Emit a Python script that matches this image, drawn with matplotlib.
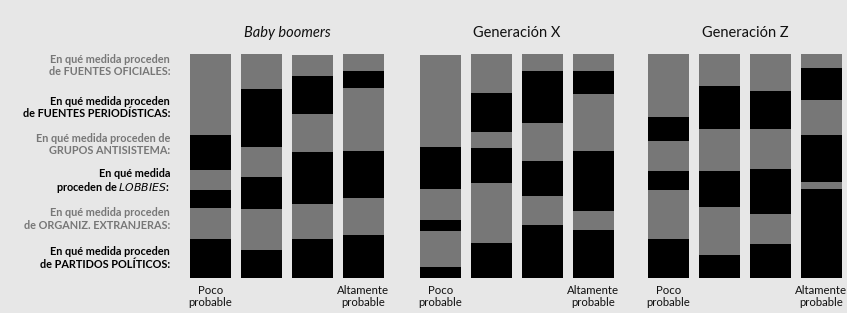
import matplotlib
matplotlib.use("Agg")
import matplotlib.pyplot as plt
import numpy as np

W, H = 847, 313
BG = "#e7e7e7"
GRAY = "#777777"
BLACK = "#000000"

panels = ["Baby boomers", "Generación X", "Generación Z"]
levels = ["Poco\nprobable", "", "", "Altamente\nprobable"]

# categories, bottom to top of each bar
categories = ["PARTIDOS POLÍTICOS", "ORGANIZ. EXTRANJERAS", "LOBBIES",
              "GRUPOS ANTISISTEMA", "FUENTES PERIODÍSTICAS", "FUENTES OFICIALES"]
cat_colors = [BLACK, GRAY, BLACK, GRAY, BLACK, GRAY]

# values (%), per panel: one list per category (bottom->top), 4 levels each
boomers = {
    "PARTIDOS POLÍTICOS":    [17.3, 12.4, 17.3, 19.1],
    "ORGANIZ. EXTRANJERAS":  [13.9, 18.3, 15.6, 16.5],
    "LOBBIES":               [8.0, 14.3, 23.2, 21.0],
    "GRUPOS ANTISISTEMA":    [8.9, 13.4, 17.0, 28.2],
    "FUENTES PERIODÍSTICAS": [15.6, 25.9, 17.0, 7.6],
    "FUENTES OFICIALES":     [36.3, 15.7, 9.4, 7.6],
}
gen_x = {
    "PARTIDOS POLÍTICOS":    [4.8, 15.5, 23.5, 21.3],
    "ORGANIZ. EXTRANJERAS":  [16.1, 26.8, 13.0, 8.5],
    "LOBBIES":               [4.9, 15.6, 15.6, 26.8],
    "GRUPOS ANTISISTEMA":    [13.9, 7.2, 17.0, 25.5],
    "FUENTES PERIODÍSTICAS": [18.8, 17.4, 23.2, 10.3],
    "FUENTES OFICIALES":     [41.2, 17.5, 7.7, 7.6],
}
gen_z = {
    "PARTIDOS POLÍTICOS":    [17.3, 10.1, 15.1, 39.6],
    "ORGANIZ. EXTRANJERAS":  [21.9, 21.5, 13.4, 3.1],
    "LOBBIES":               [8.5, 16.1, 20.1, 21.0],
    "GRUPOS ANTISISTEMA":    [13.4, 18.8, 17.9, 15.6],
    "FUENTES PERIODÍSTICAS": [10.7, 19.2, 17.0, 14.3],
    "FUENTES OFICIALES":     [28.2, 14.3, 16.5, 6.4],
}
panel_data = [boomers, gen_x, gen_z]

# left-side labels, top to bottom
row_labels = [
    ("En qué medida proceden\nde FUENTES OFICIALES:", GRAY),
    ("En qué medida proceden\nde FUENTES PERIODÍSTICAS:", BLACK),
    ("En qué medida proceden de\nGRUPOS ANTISISTEMA:", GRAY),
    ("En qué medida\nproceden de $\\mathit{LOBBIES}$:", BLACK),
    ("En qué medida proceden\nde ORGANIZ. EXTRANJERAS:", GRAY),
    ("En qué medida proceden\nde PARTIDOS POLÍTICOS:", BLACK),
]
label_y_px = [65.5, 107.5, 144.5, 181.5, 219, 258]

fig = plt.figure(figsize=(W / 100, H / 100), dpi=100, facecolor=BG)

panel_left_px = [185, 415, 643]
ax_w_px = 204
bar_top_px, bar_bot_px = 54, 278

for p, (title, data) in enumerate(zip(panels, panel_data)):
    ax = fig.add_axes([panel_left_px[p] / W, (H - bar_bot_px) / H,
                       ax_w_px / W, (bar_bot_px - bar_top_px) / H])
    ax.set_facecolor(BG)
    x = np.arange(len(levels))
    bottom = np.zeros(len(levels))
    for cat, col in zip(categories, cat_colors):
        vals = np.array(data[cat])
        ax.bar(x, vals, bottom=bottom, width=0.8, color=col, linewidth=0)
        bottom += vals
    ax.set_xlim(-0.5, 3.5)
    ax.set_ylim(0, 100)
    ax.set_yticks([])
    ax.set_xticks(x)
    ax.set_xticklabels(levels, family="Lato", fontsize=8.2, color="#111111",
                       linespacing=1.15)
    ax.tick_params(axis="x", length=0, pad=5)
    for s in ax.spines.values():
        s.set_visible(False)
    ax.text(1.5, 1.0 + 21 / (bar_bot_px - bar_top_px), title, transform=ax.get_xaxis_transform(),
            ha="center", va="center", family="Lato", fontsize=10.5,
            style="italic" if p == 0 else "normal", color="#111111")

for (txt, col), ypx in zip(row_labels, label_y_px):
    fig.text(170 / W, (H - ypx) / H, txt, ha="right", va="center",
             family="Lato", fontweight="bold", fontsize=7.8, color=col,
             linespacing=1.15, multialignment="right")

fig.savefig("out.png", dpi=100, facecolor=BG)
